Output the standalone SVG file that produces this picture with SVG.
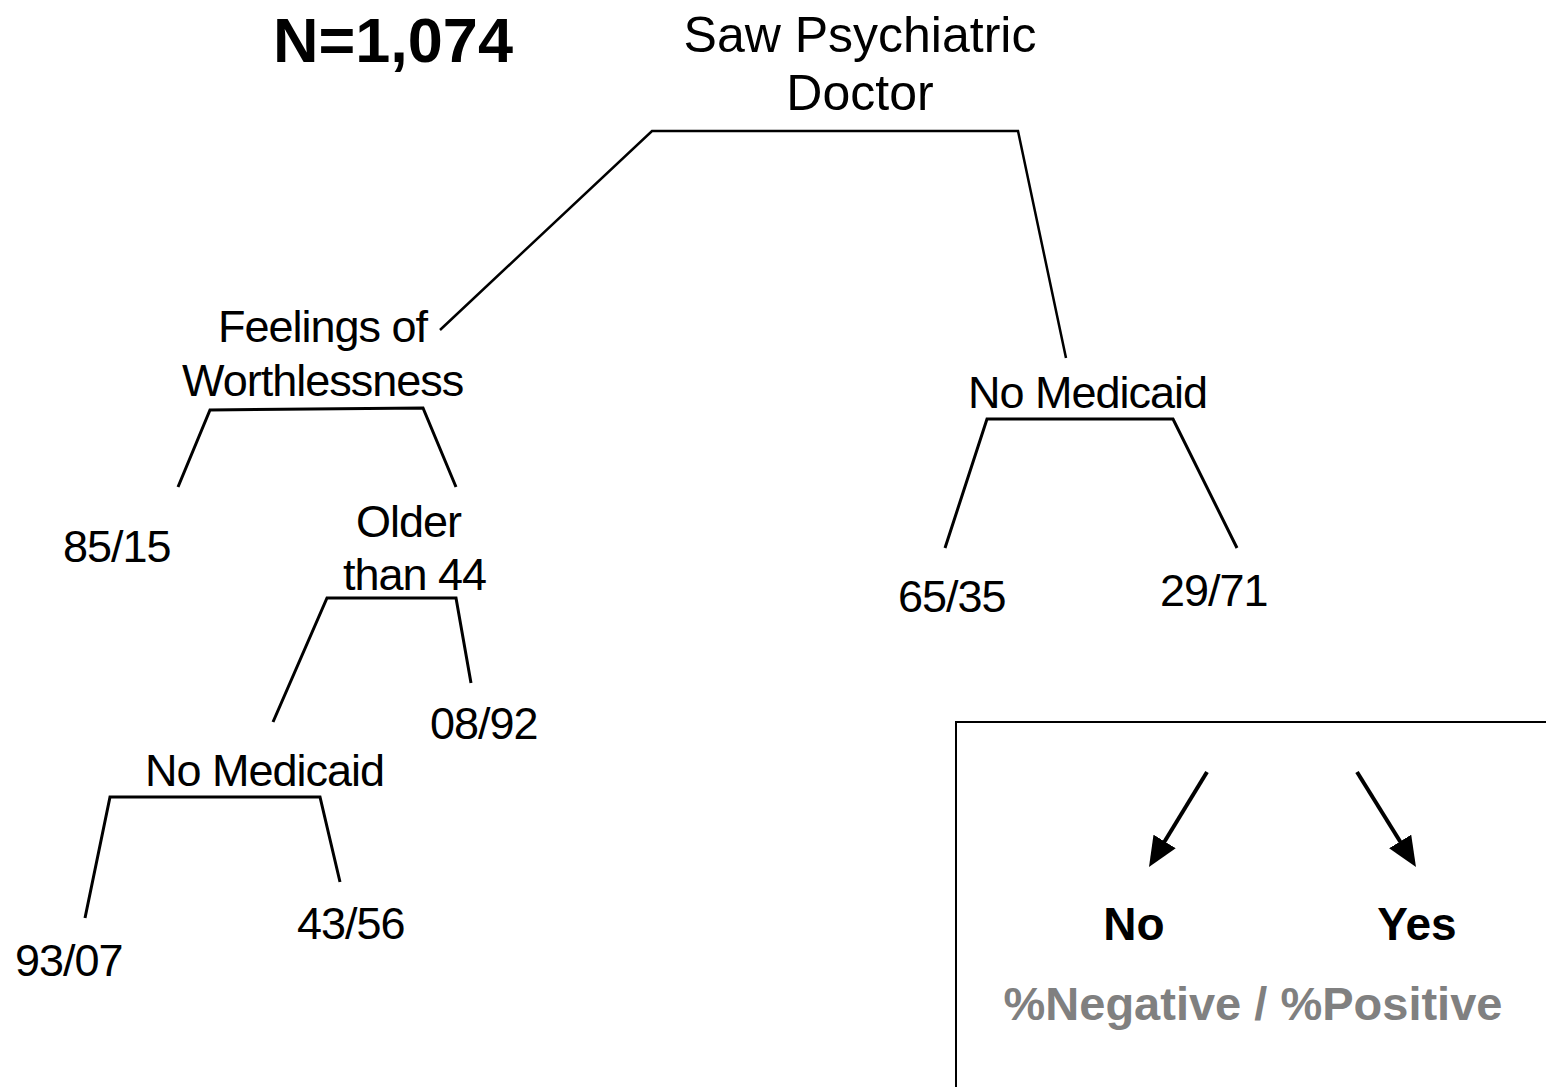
<svg xmlns="http://www.w3.org/2000/svg" width="1546" height="1087" viewBox="0 0 1546 1087">
  <style>
    text { font-family: "Liberation Sans", Arial, sans-serif; fill: #000; }
    .title { font-size: 63px; font-weight: bold; }
    .root { font-size: 50px; }
    .lbl { font-size: 45px; letter-spacing: -1px; }
    .key { font-size: 46px; font-weight: bold; }
    .note { font-size: 47px; font-weight: bold; fill: #808080; }
    .branch { fill: none; stroke: #000; stroke-width: 3; stroke-linejoin: miter; stroke-linecap: butt; }
    .thin { stroke-width: 2.5; }
    .arrow { stroke: #000; stroke-width: 4; fill: none; }
  </style>
  <defs>
    <marker id="head" viewBox="0 0 30 26" refX="20" refY="13" markerWidth="30" markerHeight="26" markerUnits="userSpaceOnUse" orient="auto">
      <path d="M0,0 L30,13 L0,26 z" fill="#000"/>
    </marker>
  </defs>

  <rect width="1546" height="1087" fill="#fff"/>

  <text class="title" x="273" y="62">N=1,074</text>

  <!-- split brackets -->
  <g id="connectors">
    <polyline class="branch thin" points="440,330 652,131 1018,131 1066,358"/>
    <polyline class="branch" points="178,487 210,410 423,408 456,487"/>
    <polyline class="branch" points="273,722 327,598 456,598 471,683"/>
    <polyline class="branch" points="85,918 110,797 320,797 340,882"/>
    <polyline class="branch" points="945,548 987,419 1173,419 1237,548"/>
  </g>

  <g id="n-root">
    <text class="root" x="860" y="52" text-anchor="middle">Saw Psychiatric</text>
    <text class="root" x="860" y="110" text-anchor="middle">Doctor</text>
  </g>
  <g id="n-worthless">
    <text class="lbl" x="218" y="342">Feelings of</text>
    <text class="lbl" x="182" y="396">Worthlessness</text>
  </g>
  <g id="n-85-15"><text class="lbl" x="63" y="562">85/15</text></g>
  <g id="n-older">
    <text class="lbl" x="356" y="537">Older</text>
    <text class="lbl" x="343" y="590">than 44</text>
  </g>
  <g id="n-08-92"><text class="lbl" x="430" y="739">08/92</text></g>
  <g id="n-medicaid-left"><text class="lbl" x="145" y="786">No Medicaid</text></g>
  <g id="n-93-07"><text class="lbl" x="15" y="976">93/07</text></g>
  <g id="n-43-56"><text class="lbl" x="297" y="939">43/56</text></g>
  <g id="n-medicaid-right"><text class="lbl" x="968" y="408">No Medicaid</text></g>
  <g id="n-65-35"><text class="lbl" x="898" y="612">65/35</text></g>
  <g id="n-29-71"><text class="lbl" x="1160" y="606">29/71</text></g>

  <!-- key -->
  <g id="legend">
    <rect x="956" y="722" width="620" height="400" fill="none" stroke="#000" stroke-width="2"/>
    <line class="arrow" x1="1207" y1="772" x2="1154.2" y2="858.5" marker-end="url(#head)"/>
    <line class="arrow" x1="1357" y1="772" x2="1410.7" y2="858.5" marker-end="url(#head)"/>
    <text class="key" x="1134" y="940" text-anchor="middle">No</text>
    <text class="key" x="1417" y="940" text-anchor="middle">Yes</text>
    <text class="note" x="1253" y="1020" text-anchor="middle">%Negative / %Positive</text>
  </g>
</svg>
